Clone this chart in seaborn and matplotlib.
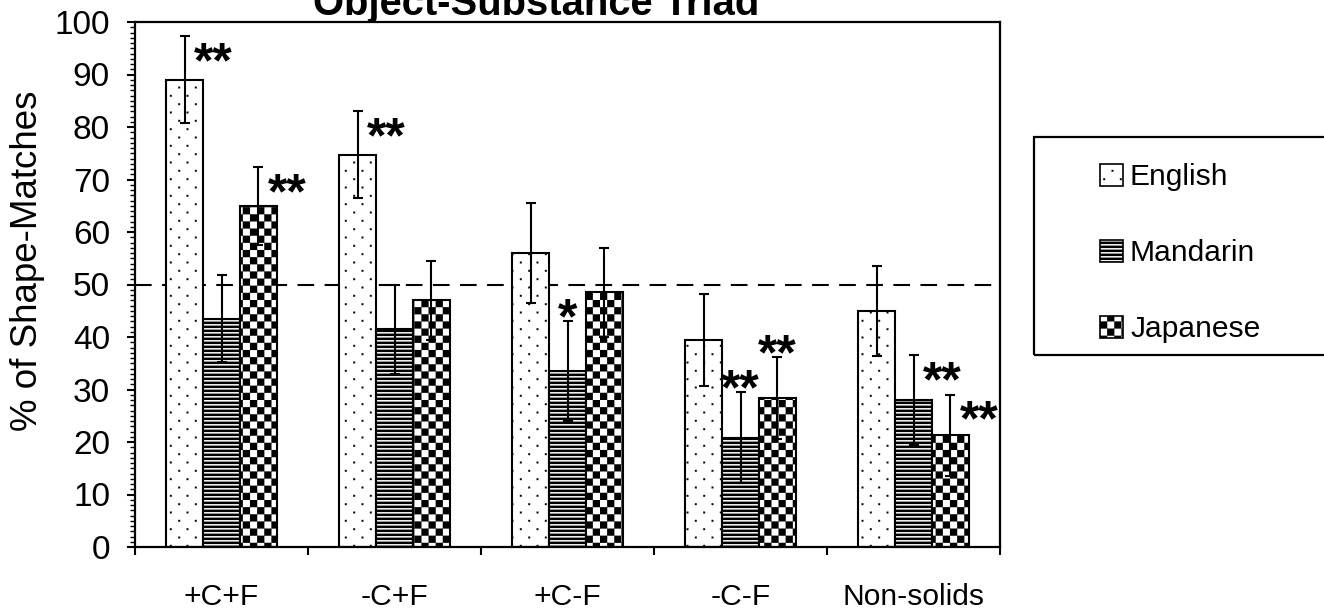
import numpy as np
import pandas as pd
import matplotlib
matplotlib.use("Agg")
import matplotlib.pyplot as plt
import matplotlib.hatch as mhatch
from matplotlib.path import Path
from matplotlib.patches import Patch, Rectangle
from matplotlib.ticker import MultipleLocator, FixedLocator, NullFormatter
import seaborn as sns

# ---------------- data ----------------
conditions = ["+C+F", "-C+F", "+C-F", "-C-F", "Non-solids"]
languages = ["English", "Mandarin", "Japanese"]
english = [89.0, 74.7, 56.0, 39.4, 45.0]
mandarin = [43.5, 41.5, 33.5, 20.8, 28.0]
japanese = [65.0, 47.0, 48.5, 28.4, 21.3]
english_err = [8.3, 8.3, 9.5, 8.8, 8.6]
mandarin_err = [8.3, 8.5, 9.5, 8.7, 8.5]
japanese_err = [7.4, 7.5, 8.5, 7.8, 7.7]
english_sig = ["**", "**", "", "", ""]
mandarin_sig = ["", "", "*", "**", "**"]
japanese_sig = ["**", "", "", "**", "**"]
# where the significance mark sits relative to the error bar top
english_side = ["right", "right", "", "", ""]
mandarin_side = ["", "", "above", "above", "right"]
japanese_side = ["right", "", "", "above", "right"]
chance_level = 50
title = "Object-Substance Triad"
ylabel = "% of Shape-Matches"

values = {"English": english, "Mandarin": mandarin, "Japanese": japanese}
errors = {"English": english_err, "Mandarin": mandarin_err, "Japanese": japanese_err}
sigs = {"English": english_sig, "Mandarin": mandarin_sig, "Japanese": japanese_sig}
sides = {"English": english_side, "Mandarin": mandarin_side, "Japanese": japanese_side}

df = pd.DataFrame([
    {"condition": c, "language": lang, "value": values[lang][i]}
    for lang in languages for i, c in enumerate(conditions)
])

# ---------------- custom fill patterns ----------------
MOVETO, LINETO, CLOSE = Path.MOVETO, Path.LINETO, Path.CLOSEPOLY


class Dots(mhatch.HatchPatternBase):
    def __init__(self, hatch, density):
        self.on = "." in hatch
        self.rows, self.cols = 12, 6
        self.num_vertices = self.rows * self.cols * 5 if self.on else 0

    def set_vertices_and_codes(self, vertices, codes):
        s = 0.009
        v = []
        for k in range(self.rows):
            y = (k + 0.5) / self.rows
            for j in range(self.cols):
                x = (j + 0.25 + 0.5 * (k % 2)) / self.cols
                v += [(x - s, y - s), (x + s, y - s), (x + s, y + s), (x - s, y + s), (x - s, y - s)]
        vertices[:] = v
        codes[:] = [MOVETO, LINETO, LINETO, LINETO, CLOSE] * (self.rows * self.cols)


class Bands(mhatch.HatchPatternBase):
    def __init__(self, hatch, density):
        self.n = 25 if "-" in hatch else 0
        self.num_vertices = self.n * 5

    def set_vertices_and_codes(self, vertices, codes):
        step = 1.0 / self.n
        th = step * 0.58
        v = []
        for k in range(self.n):
            y0 = k * step
            v += [(-0.02, y0), (1.02, y0), (1.02, y0 + th), (-0.02, y0 + th), (-0.02, y0)]
        vertices[:] = v
        codes[:] = [MOVETO, LINETO, LINETO, LINETO, CLOSE] * self.n


class Checker(mhatch.HatchPatternBase):
    def __init__(self, hatch, density):
        self.n = 14 if "*" in hatch else 0
        self.cells = [(i, j) for i in range(self.n) for j in range(self.n) if (i + j) % 2 == 0]
        self.num_vertices = len(self.cells) * 5

    def set_vertices_and_codes(self, vertices, codes):
        st = 1.0 / self.n
        v = []
        for i, j in self.cells:
            x0, y0 = i * st, j * st
            v += [(x0, y0), (x0 + st, y0), (x0 + st, y0 + st), (x0, y0 + st), (x0, y0)]
        vertices[:] = v
        codes[:] = [MOVETO, LINETO, LINETO, LINETO, CLOSE] * len(self.cells)


mhatch._hatch_types = [Dots, Bands, Checker]
hatches = {"English": ".", "Mandarin": "-", "Japanese": "*"}

# ---------------- style ----------------
sns.set_style("ticks")
plt.rcParams["font.family"] = ["Liberation Sans", "DejaVu Sans"]
plt.rcParams["hatch.linewidth"] = 0.1
plt.rcParams["hatch.color"] = "black"
for k in ["text.color", "axes.labelcolor", "xtick.color", "ytick.color", "axes.edgecolor"]:
    plt.rcParams[k] = "black"

W, H = 1324, 609
fig = plt.figure(figsize=(W / 100, H / 100), dpi=100)
ax = fig.add_axes([135 / W, 1 - 547 / H, (1000 - 135) / W, (547 - 22) / H])

sns.barplot(data=df, x="condition", y="value", hue="language",
            order=conditions, hue_order=languages,
            palette={l: "white" for l in languages}, width=0.64,
            errorbar=None, edgecolor="black", linewidth=1.5,
            legend=False, ax=ax, zorder=2, saturation=1)

for lang, cont in zip(languages, ax.containers):
    xs = []
    for p in cont:
        p.set_hatch(hatches[lang])
        p.set_facecolor("white")
        p.set_edgecolor("black")
        xs.append(p.get_x() + p.get_width() / 2)
    ax.errorbar(xs, values[lang], yerr=errors[lang], fmt="none", ecolor="black",
                elinewidth=1.5, capsize=3.4, capthick=1.5, zorder=4)
    for x, v, e, s, side in zip(xs, values[lang], errors[lang], sigs[lang], sides[lang]):
        if not s:
            continue
        if side == "right":
            off = (29 * 0.72, -41 * 0.72)
        else:
            off = (0, -12 * 0.72)
        ax.annotate(s, xy=(x, v + e), xytext=off, textcoords="offset points",
                    ha="center", va="baseline", fontsize=36, fontweight="bold", zorder=5)

ax.axhline(chance_level, color="black", lw=1.5, ls=(0, (8, 5)), zorder=1)

# axes
ax.set_ylim(0, 100)
ax.set_xlim(-0.5, len(conditions) - 0.5)
ax.yaxis.set_major_locator(MultipleLocator(10))
ax.yaxis.set_minor_locator(MultipleLocator(1))
ax.tick_params(axis="y", which="major", direction="out", length=6, width=1.5,
               labelsize=24, pad=12, colors="black")
ax.tick_params(axis="y", which="minor", direction="out", length=3.5, width=1.0, colors="black")

ax.xaxis.set_major_locator(FixedLocator(np.arange(-0.5, len(conditions), 1.0)))
ax.xaxis.set_major_formatter(NullFormatter())
ax.xaxis.set_minor_locator(FixedLocator(np.arange(len(conditions))))
ax.set_xticklabels(conditions, minor=True)
ax.tick_params(axis="x", which="major", direction="out", length=6, width=1.5, colors="black")
ax.tick_params(axis="x", which="minor", length=0, labelsize=21.6, pad=26, colors="black")
ax.set_xlabel("")
ax.set_ylabel(ylabel, fontsize=26.5, color="black")
ax.yaxis.set_label_coords(-0.104, 0.545)
for sp in ax.spines.values():
    sp.set_visible(True)
    sp.set_linewidth(1.6)
    sp.set_color("black")

fig.text(536 / W, 1 - 15 / H, title, ha="center", va="baseline",
         fontsize=28.8, fontweight="bold", color="black")

# legend
handles = [Patch(facecolor="white", edgecolor="black", hatch=hatches[l], lw=1.2, label=l)
           for l in languages]
leg = fig.legend(handles=handles, loc="upper left",
                 bbox_to_anchor=(1100 / W, 1 - 163 / H), frameon=False,
                 fontsize=21.6, handlelength=0.75, handleheight=0.75,
                 handletextpad=0.25, labelspacing=1.6, borderpad=0, borderaxespad=0)
for t in leg.get_texts():
    t.set_color("black")
fig.patches.append(Rectangle((1034 / W, 1 - 355 / H), (1340 - 1034) / W, (355 - 137) / H,
                             transform=fig.transFigure, facecolor="none",
                             edgecolor="black", lw=1.6))

fig.savefig("out.png", dpi=100)
